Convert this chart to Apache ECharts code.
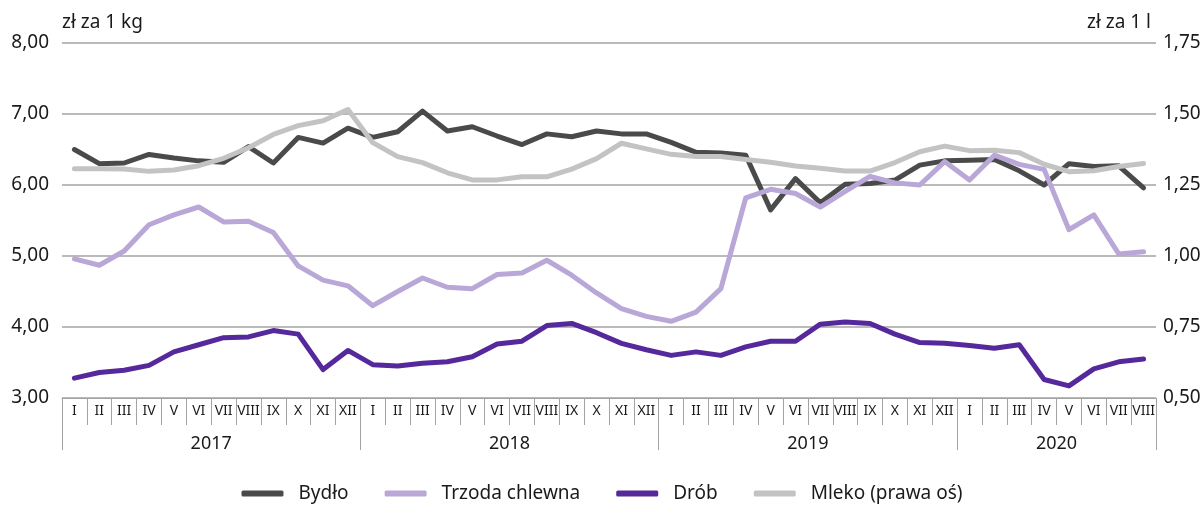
<!DOCTYPE html>
<html>
<head>
<meta charset="utf-8">
<script src="https://cdn.jsdelivr.net/npm/echarts@6/dist/echarts.min.js"></script>
<style>
  html, body { margin: 0; padding: 0; background: #fff; }
  #chart { width: 1204px; height: 508px; }
</style>
</head>
<body>
<div id="chart"></div>
<script>
// miesiace I 2017 - VIII 2020
var months = ['I','II','III','IV','V','VI','VII','VIII','IX','X','XI','XII',
              'I','II','III','IV','V','VI','VII','VIII','IX','X','XI','XII',
              'I','II','III','IV','V','VI','VII','VIII','IX','X','XI','XII',
              'I','II','III','IV','V','VI','VII','VIII'];
var years = ['2017','2018','2019','2020'];
var yearMid = [6, 18, 30, 40];
var yearEdges = [0, 12, 24, 36, 44];

var bydlo = [6.50,6.30,6.31,6.43,6.38,6.34,6.32,6.54,6.31,6.67,6.59,6.80,
             6.67,6.75,7.04,6.76,6.82,6.69,6.57,6.72,6.68,6.76,6.72,6.72,
             6.60,6.46,6.45,6.42,5.65,6.09,5.75,6.01,6.02,6.07,6.28,6.34,
             6.35,6.36,6.20,6.00,6.30,6.26,6.27,5.96];
var trzoda = [4.96,4.87,5.07,5.44,5.58,5.69,5.48,5.49,5.33,4.86,4.66,4.58,
              4.30,4.50,4.69,4.56,4.54,4.74,4.76,4.94,4.73,4.48,4.26,4.15,
              4.08,4.21,4.54,5.82,5.94,5.88,5.69,5.91,6.12,6.03,6.00,6.33,
              6.07,6.42,6.29,6.22,5.37,5.58,5.03,5.06];
var drob = [3.28,3.36,3.39,3.46,3.65,3.75,3.85,3.86,3.95,3.90,3.40,3.67,
            3.47,3.45,3.49,3.51,3.58,3.76,3.80,4.02,4.05,3.92,3.77,3.68,
            3.60,3.65,3.60,3.72,3.80,3.80,4.04,4.07,4.05,3.90,3.78,3.77,
            3.74,3.70,3.75,3.26,3.17,3.41,3.51,3.55];
var mleko = [1.307,1.307,1.306,1.298,1.303,1.318,1.344,1.381,1.428,1.459,1.476,1.516,
             1.399,1.350,1.329,1.293,1.268,1.268,1.279,1.279,1.306,1.343,1.397,1.377,
             1.358,1.350,1.350,1.340,1.330,1.317,1.309,1.299,1.299,1.329,1.367,1.387,
             1.371,1.372,1.364,1.323,1.297,1.300,1.315,1.326];

var font = '"Noto Sans", sans-serif';
var gridColor = '#a3a3a3';
var txt = '#1a1a1a';

function comma(v){
	return v.toFixed(2).replace('.', ',');
}
function line(name, data, color, yIdx){
	return {
		name: name,
		type: 'line',
		data: data,
		yAxisIndex: yIdx,
		symbol: 'none',
		smooth: false,
		lineStyle: { color: color, width: 5, cap: 'round', join: 'round' },
		itemStyle: { color: color },
		emphasis: { disabled: true }
	};
}

var myChart = echarts.init(document.getElementById('chart'));
var option = {
	animation: false,
	textStyle: { fontFamily: font },
	grid: { left: 62, right: 48, top: 43, bottom: 110, containLabel: false },
	legend: {
		bottom: 0,
		left: 'center',
		itemWidth: 42,
		itemHeight: 6,
		itemGap: 36,
		icon: 'roundRect',
		textStyle: { fontFamily: font, fontSize: 19, color: txt, padding: [0, 0, 0, 10] },
		data: ['Bydło', 'Trzoda chlewna', 'Drób', 'Mleko (prawa oś)']
	},
	xAxis: [
		{
			type: 'category',
			data: months,
			boundaryGap: true,
			position: 'bottom',
			axisLine: { show: true, lineStyle: { color: gridColor, width: 1 } },
			axisTick: { show: true, length: 27, interval: 0, lineStyle: { color: gridColor } },
			axisLabel: { interval: 0, fontSize: 14, color: txt, margin: 6, fontFamily: font }
		},
		{
			type: 'value',
			min: 0,
			max: 44,
			position: 'bottom',
			axisLine: { show: false },
			splitLine: { show: false },
			axisTick: { show: true, length: 52, customValues: yearEdges, lineStyle: { color: gridColor } },
			axisLabel: {
				customValues: yearMid,
				fontSize: 18,
				color: txt,
				margin: 37,
				fontFamily: font,
				formatter: function (v) { return years[yearMid.indexOf(v)]; }
			}
		}
	],
	yAxis: [
		{
			type: 'value',
			min: 3,
			max: 8,
			interval: 1,
			name: 'zł za 1 kg',
			nameLocation: 'end',
			nameGap: 11,
			nameTextStyle: { align: 'left', fontSize: 19, color: txt, fontFamily: font },
			axisLine: { show: false },
			axisTick: { show: false },
			axisLabel: { fontSize: 19, color: txt, margin: 13, formatter: comma },
			splitLine: { lineStyle: { color: gridColor, width: 1.5 } }
		},
		{
			type: 'value',
			min: 0.5,
			max: 1.75,
			interval: 0.25,
			position: 'right',
			name: 'zł za 1 l',
			nameLocation: 'end',
			nameGap: 11,
			nameTextStyle: { align: 'right', fontSize: 19, color: txt, fontFamily: font, padding: [0, 5, 0, 0] },
			axisLine: { show: false },
			axisTick: { show: false },
			axisLabel: { fontSize: 19, color: txt, margin: 7, formatter: comma },
			splitLine: { show: false }
		}
	],
	series: [
		line('Bydło', bydlo, '#4a4a4a', 0),
		line('Trzoda chlewna', trzoda, '#b9a7d8', 0),
		line('Drób', drob, '#55289b', 0),
		line('Mleko (prawa oś)', mleko, '#c3c3c3', 1)
	]
};
myChart.setOption(option);
</script>
</body>
</html>
